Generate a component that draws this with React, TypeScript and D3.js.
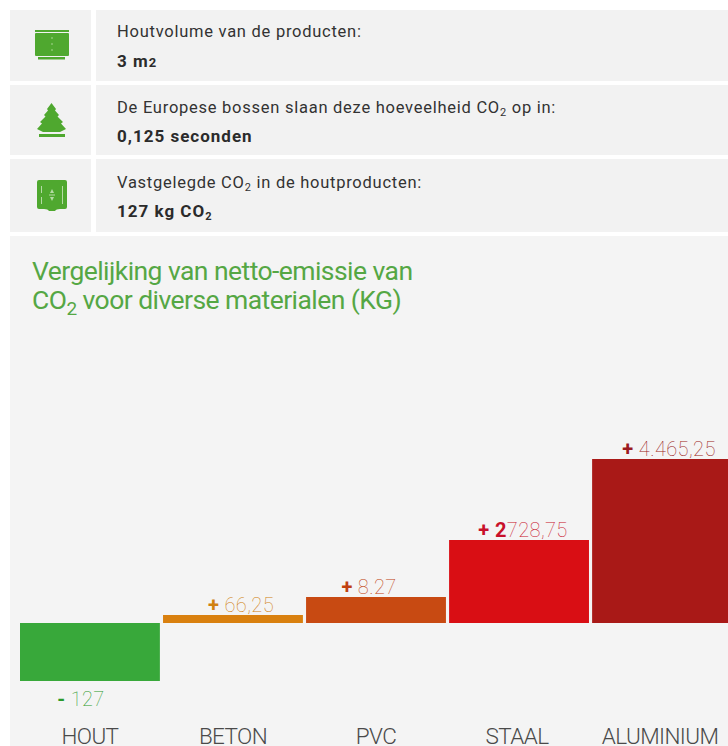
import React from 'react';
import * as d3 from 'd3';

// Bar heights do not follow the printed numbers in the source, so both are kept
const categories = ['HOUT', 'BETON', 'PVC', 'STAAL', 'ALUMINIUM'];
const barHeights = [-58, 8, 26, 83, 164];
const labelStrong = ['-', '+', '+', '+ 2', '+'];
const labelLight = [' 127', ' 66,25', ' 8.27', '728,75', ' 4.465,25'];
const barColors = ['#38a83a', '#d9800f', '#c84a12', '#d90e14', '#a91917'];
const labelColors = ['#2a9a2a', '#d08010', '#c04010', '#c8102a', '#9a1a20'];
const labelShift = [-9, 8, -7, 4, 7];
const nameShift = [0, 0, 0, -2, -2];

const rowLabels = ['Houtvolume van de producten:', 'De Europese bossen slaan deze hoeveelheid CO', 'Vastgelegde CO'];
const rowLabelTails = ['', ' op in:', ' in de houtproducten:'];
const rowValues = ['3 m', '0,125 seconden', '127 kg CO'];

const width = 728;
const height = 746;
const font = 'Roboto, sans-serif';
const green = '#4fa82f';

const x = d3.scaleBand<string>().domain(categories).range([20, 732]).paddingInner(0.022);
const y = d3.scaleLinear().domain([0, 164]).range([623, 459]);

const rows = [
  { top: 10, h: 71, textY: 37, valueY: 67 },
  { top: 85, h: 70, textY: 113, valueY: 142 },
  { top: 159, h: 73, textY: 188, valueY: 217 },
];

const IconBox = () => (
  <g fill={green}>
    <rect x={35} y={30} width={34} height={2} />
    <rect x={35} y={33} width={34} height={23} rx={1} />
    <rect x={38} y={57} width={27} height={2.5} />
    <g fill="#a5d38f">
      <rect x={51.5} y={37} width={1} height={2} />
      <rect x={51.5} y={43} width={1} height={2} />
      <rect x={51.5} y={49} width={1} height={2} />
    </g>
  </g>
);

const IconTree = () => (
  <g fill={green}>
    <path d="M51.5 103 L56 109 L55 110.5 L59 115 L57.5 116.5 L63 122 L61 123.5 L66 129 L60 132 L43 132 L37 129 L42 123.5 L40 122 L45.5 116.5 L44 115 L48 110.5 L47 109 Z" />
    <rect x={39} y={134} width={26} height={3} />
  </g>
);

const IconLog = () => (
  <g>
    <path d="M39 180 H65 Q67 180 67 182 V207 Q67 209 65 209 H60 Q56 209 55 211 H49 Q48 209 44 209 H39 Q37 209 37 207 V182 Q37 180 39 180 Z" fill={green} />
    <g fill="#b5dba5">
      <rect x={41} y={186} width={1} height={7} />
      <rect x={41} y={197} width={1} height={7} />
      <rect x={62} y={186} width={1} height={18} />
      <path d="M52 189 L54 193 H50 Z" />
      <path d="M52 201 L54 197 H50 Z" />
      <rect x={49} y={194.5} width={6} height={1} />
    </g>
  </g>
);

const icons = [<IconBox />, <IconTree />, <IconLog />];

const App: React.FC = () => {
  return (
    <svg
      width={width}
      height={height}
      viewBox={`0 0 ${width} ${height}`}
      style={{ position: 'absolute', left: 0, top: 0, display: 'block', background: '#fff' }}
      fontFamily={font}
    >
      {/* Info rows */}
      {rows.map((r, i) => (
        <g key={i}>
          <rect x={10} y={r.top} width={81} height={r.h} fill="#f2f2f2" />
          <rect x={96} y={r.top} width={632} height={r.h} fill="#f2f2f2" />
          {icons[i]}
          <text x={117} y={r.textY} fontSize={16.5} letterSpacing={0.74} fill="#333">
            {rowLabels[i]}
            {i > 0 && <tspan dy={3} fontSize={11}>2</tspan>}
            {i > 0 && <tspan dy={-3}>{rowLabelTails[i]}</tspan>}
          </text>
          <text x={117} y={r.valueY} fontSize={17} fontWeight={700} letterSpacing={1} fill="#2b2b2b">
            {rowValues[i]}
            {i === 0 && <tspan fontSize={13}>2</tspan>}
            {i === 2 && <tspan dy={3} fontSize={11}>2</tspan>}
          </text>
        </g>
      ))}

      {/* Chart panel */}
      <rect x={10} y={236} width={718} height={510} fill="#f4f4f4" />
      <g fontSize={26.5} letterSpacing={-0.56} fill="#55a744">
        <text x={32} y={280}>Vergelijking van netto-emissie van</text>
        <text x={32} y={309}>
          CO<tspan dy={6} fontSize={19}>2</tspan>
          <tspan dy={-6}> voor diverse materialen (KG)</tspan>
        </text>
      </g>

      {categories.map((c, i) => {
        const v = barHeights[i];
        const bx = x(c) as number;
        const cx = bx + x.bandwidth() / 2;
        const top = Math.min(y(v), y(0));
        const bottom = Math.max(y(v), y(0));
        return (
          <g key={c}>
            <rect x={bx} y={top} width={x.bandwidth()} height={bottom - top} fill={barColors[i]} />
            <text
              x={cx + labelShift[i]}
              y={v < 0 ? bottom + 25 : top - 3}
              textAnchor="middle"
              fontSize={20}
              fontWeight={100}
              letterSpacing={0.4}
              fill={labelColors[i]}
            >
              <tspan fontWeight={700}>{labelStrong[i]}</tspan>
              {labelLight[i]}
            </text>
            <text
              x={cx + nameShift[i]}
              y={743.5}
              textAnchor="middle"
              fontSize={22.5}
              fontWeight={300}
              letterSpacing={-0.6}
              fill="#4a4a4a"
            >
              {c}
            </text>
          </g>
        );
      })}
    </svg>
  );
};

export default App;
